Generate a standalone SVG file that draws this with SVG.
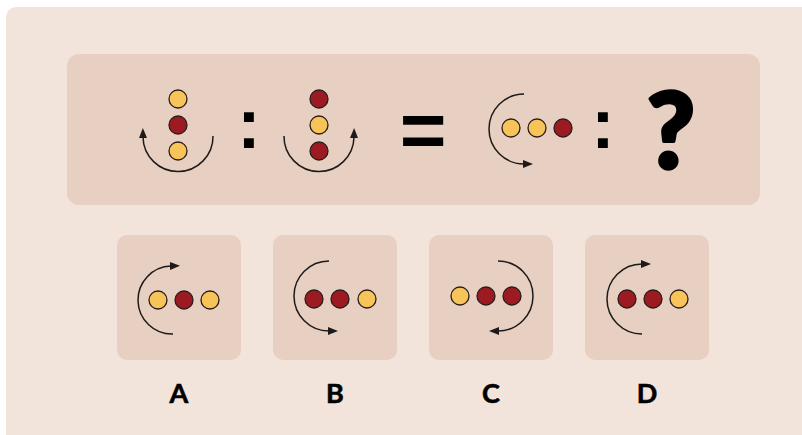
<svg xmlns="http://www.w3.org/2000/svg" width="802" height="435" viewBox="0 0 802 435">
  <defs>
    <marker id="ah" markerUnits="userSpaceOnUse" markerWidth="12" markerHeight="10" refX="1" refY="4" orient="auto">
      <path d="M0,0 L10,4 L0,8 z" fill="#1e1a1a"/>
    </marker>
  </defs>
  <style>
    .bg{fill:#F3E4DB}
    .panel{fill:#E7CFC1}
    .y{fill:#F6C458;stroke:#2a1d1a;stroke-width:1.3}
    .r{fill:#9C1B23;stroke:#2a1d1a;stroke-width:1.3}
    .arc{fill:none;stroke:#1e1a1a;stroke-width:1.5;marker-end:url(#ah)}
    .sym{font-family:"Liberation Sans",Arial,sans-serif;font-weight:bold;fill:#000}
    .q{font-family:Lato,"DejaVu Sans",sans-serif;font-weight:900;fill:#000;stroke:#000;stroke-width:3.5;stroke-linejoin:round}
    .lbl{font-family:Lato,"Liberation Sans",sans-serif;font-weight:bold;font-size:27px;fill:#000;text-anchor:middle;stroke:#000;stroke-width:0.6}
  </style>
  <rect class="bg" x="6" y="7" width="806" height="440" rx="10"/>
  <g id="question">
    <rect class="panel" x="67" y="54" width="693" height="151" rx="12"/>
    <g id="pair1-left">
      <circle class="y" cx="178" cy="99" r="9"/>
      <circle class="r" cx="178" cy="125" r="9"/>
      <circle class="y" cx="178" cy="151" r="9"/>
    </g>
    <text class="sym" x="249" y="148" font-size="70" text-anchor="middle">:</text>
    <g id="pair1-right">
      <circle class="r" cx="319" cy="99" r="9"/>
      <circle class="y" cx="319" cy="125" r="9"/>
      <circle class="r" cx="319" cy="151" r="9"/>
    </g>
    <text class="sym" x="423" y="157" font-size="80" text-anchor="middle">=</text>
    <g id="pair2-left">
      <circle class="y" cx="511" cy="128" r="9"/>
      <circle class="y" cx="537" cy="128" r="9"/>
      <circle class="r" cx="563" cy="128" r="9"/>
    </g>
    <text class="sym" x="603" y="148" font-size="70" text-anchor="middle">:</text>
    <text class="q" x="671" y="168" font-size="104" text-anchor="middle">?</text>
  </g>
  <g id="optA">
    <rect class="panel" x="117" y="235" width="124" height="125" rx="10"/>
    <circle class="y" cx="158" cy="300" r="9"/>
    <circle class="r" cx="184" cy="300" r="9"/>
    <circle class="y" cx="210" cy="300" r="9"/>
    <text class="lbl" x="179" y="403">A</text>
  </g>
  <g id="optB">
    <rect class="panel" x="273" y="235" width="124" height="125" rx="10"/>
    <circle class="r" cx="314" cy="299" r="9"/>
    <circle class="r" cx="340" cy="299" r="9"/>
    <circle class="y" cx="367" cy="299" r="9"/>
    <text class="lbl" x="335" y="403">B</text>
  </g>
  <g id="optC">
    <rect class="panel" x="429" y="235" width="124" height="125" rx="10"/>
    <circle class="y" cx="460" cy="296" r="9"/>
    <circle class="r" cx="486" cy="296" r="9"/>
    <circle class="r" cx="512" cy="296" r="9"/>
    <text class="lbl" x="491" y="403">C</text>
  </g>
  <g id="optD">
    <rect class="panel" x="585" y="235" width="124" height="125" rx="10"/>
    <circle class="r" cx="627" cy="299" r="9"/>
    <circle class="r" cx="653" cy="299" r="9"/>
    <circle class="y" cx="679" cy="299" r="9"/>
    <text class="lbl" x="647" y="403">D</text>
  </g>
  <g id="connectors">
    <path class="arc" d="M213,136 A35,35 0 0 1 143,137"/>
    <path class="arc" d="M284,136 A35,35 0 0 0 354,137"/>
    <path class="arc" d="M524,94 A35,35 0 0 0 524,164"/>
    <path class="arc" d="M173,334 A34,34 0 0 1 171,266"/>
    <path class="arc" d="M329,261 A35,35 0 0 0 329,331"/>
    <path class="arc" d="M498,261 A35,35 0 0 1 498,331"/>
    <path class="arc" d="M642,334 A35,35 0 0 1 642,264"/>
  </g>
</svg>
